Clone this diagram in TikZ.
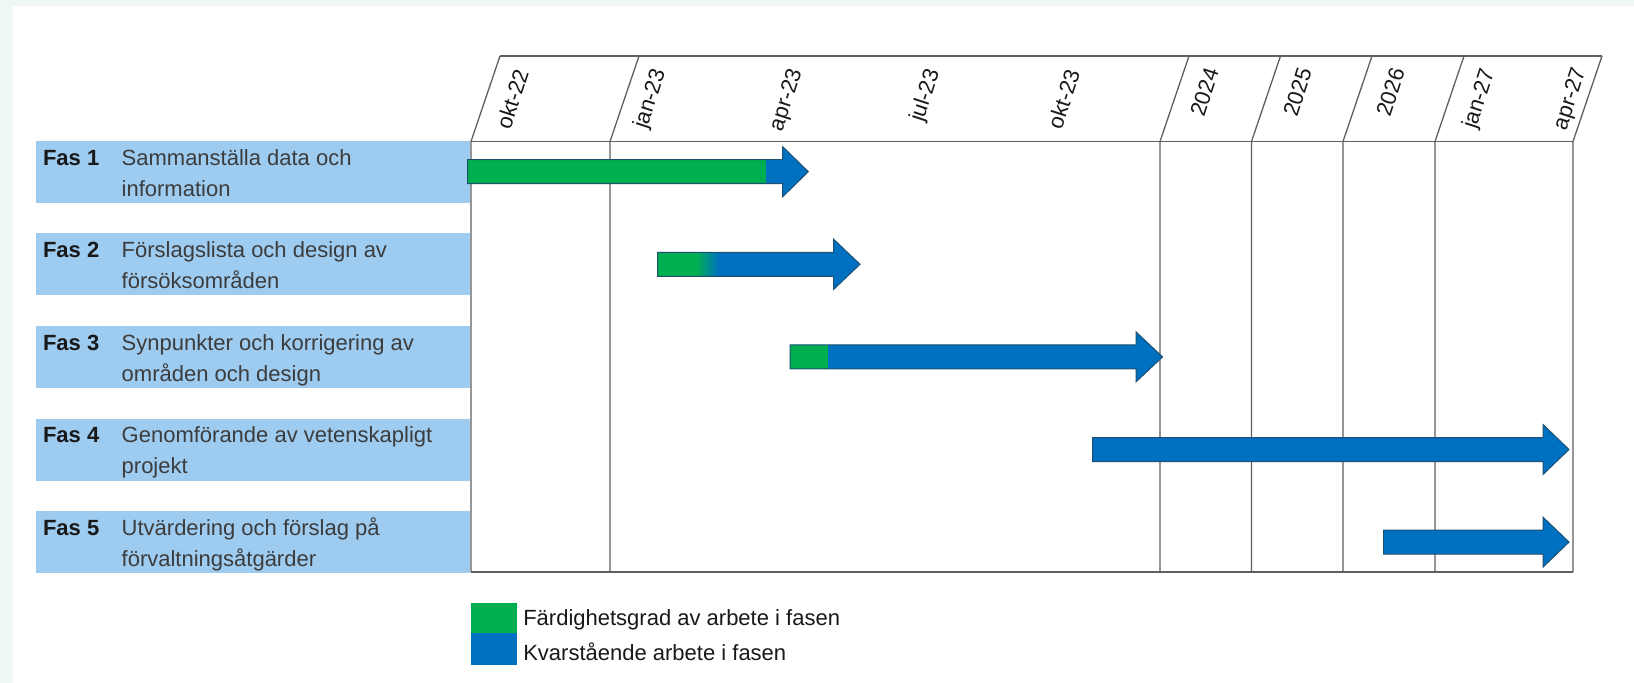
\documentclass[tikz,border=0pt]{standalone}
\usepackage{fontspec}
\setmainfont{Liberation Sans}
\definecolor{outerbg}{RGB}{239,246,246}
\definecolor{boxblue}{RGB}{158,203,240}
\definecolor{ggreen}{RGB}{0,176,80}
\definecolor{gblue}{RGB}{0,112,192}
\definecolor{aedge}{RGB}{30,80,115}
\definecolor{gridgray}{RGB}{95,95,95}
\definecolor{txtgray}{RGB}{60,60,60}
\definecolor{txtdark}{RGB}{25,25,25}
\newcommand{\ganttbar}[5]{%
  \fill[gblue] ({#1},{#5-12}) -- ({#3},{#5-12}) -- ({#3},{#5-25}) -- ({#4},{#5}) -- ({#3},{#5+25}) -- ({#3},{#5+12}) -- ({#1},{#5+12}) -- cycle;
  \fill[ggreen] ({#1},{#5-12}) rectangle ({#2},{#5+12});
  \draw[baredge] ({#1},{#5-12}) -- ({#3},{#5-12}) -- ({#3},{#5-25}) -- ({#4},{#5}) -- ({#3},{#5+25}) -- ({#3},{#5+12}) -- ({#1},{#5+12}) -- cycle;
}
\begin{document}
\begin{tikzpicture}[x=1pt,y=-1pt,
  every node/.style={font=\fontsize{22pt}{26pt}\selectfont, inner sep=0pt, outer sep=0pt},
  phasebox/.style={fill=boxblue, draw=none, minimum width=434pt, minimum height=62pt, anchor=north west},
  fastxt/.style={anchor=base west, font=\fontsize{22pt}{26pt}\selectfont\bfseries, text=txtdark},
  desctxt/.style={anchor=base west, text=txtgray},
  datelbl/.style={anchor=east, rotate=72, text=txtdark},
  gridline/.style={draw=gridgray, line width=1.3pt},
  baredge/.style={draw=aedge, line width=1pt, line join=miter},
  legtxt/.style={anchor=west, text=txtdark}]
\useasboundingbox (0,0) rectangle (1634,683);
\fill[outerbg] (0,0) rectangle (1634,683);
\fill[white] (12.7,5.7) rectangle (1634,683);

% phase boxes
\node[phasebox] (b1) at (36,140.7) {};
\node[phasebox] (b2) at (36,233.3) {};
\node[phasebox] (b3) at (36,325.9) {};
\node[phasebox] (b4) at (36,418.5) {};
\node[phasebox] (b5) at (36,511.1) {};

\node[fastxt] (f1) at (43,165.0) {Fas 1};
\node[desctxt] (d1a) at (121.7,165.0) {Sammanställa data och};
\node[desctxt] (d1b) at (121.7,196.0) {information};
\node[fastxt] (f2) at (43,257.6) {Fas 2};
\node[desctxt] (d2a) at (121.7,257.6) {Förslagslista och design av};
\node[desctxt] (d2b) at (121.7,288.6) {försöksområden};
\node[fastxt] (f3) at (43,350.2) {Fas 3};
\node[desctxt] (d3a) at (121.7,350.2) {Synpunkter och korrigering av};
\node[desctxt] (d3b) at (121.7,381.2) {områden och design};
\node[fastxt] (f4) at (43,442.8) {Fas 4};
\node[desctxt] (d4a) at (121.7,442.8) {Genomförande av vetenskapligt};
\node[desctxt] (d4b) at (121.7,473.8) {projekt};
\node[fastxt] (f5) at (43,535.4) {Fas 5};
\node[desctxt] (d5a) at (121.7,535.4) {Utvärdering och förslag på};
\node[desctxt] (d5b) at (121.7,566.4) {förvaltningsåtgärder};

% chart frame
\draw[gridline] (500,56) -- (1602,56);
\draw[gridline] (471,141.5) -- (1573,141.5);
\draw[gridline] (471,572) -- (1573,572);
\foreach \xb in {471,610,1160,1251.5,1343,1435,1573}{
  \draw[gridline, line join=miter] (\xb,572) -- (\xb,141.5) -- ({\xb+29},56);
}

% date labels
\node[datelbl] (l1) at (521.7,70) {okt-22};
\node[datelbl] (l2) at (660,70) {jan-23};
\node[datelbl] (l3) at (796.7,70) {apr-23};
\node[datelbl] (l4) at (934,70) {jul-23};
\node[datelbl] (l5) at (1073,70) {okt-23};
\node[datelbl] (l6) at (1212,69) {2024};
\node[datelbl] (l7) at (1305,69) {2025};
\node[datelbl] (l8) at (1398,69) {2026};
\node[datelbl] (l9) at (1489,70) {jan-27};
\node[datelbl] (l10) at (1580.6,69) {apr-27};

% bars
\ganttbar{467.5}{766}{782.7}{808.3}{171.7}
\fill[gblue] (657.5,252.3) -- (833.7,252.3) -- (833.7,239.3) -- (860,264.3) -- (833.7,289.3) -- (833.7,276.3) -- (657.5,276.3) -- cycle;
\fill[ggreen] (657.5,252.3) rectangle (696,276.3);
\shade[left color=ggreen, right color=gblue] (696,252.3) rectangle (719,276.3);
\draw[baredge] (657.5,252.3) -- (833.7,252.3) -- (833.7,239.3) -- (860,264.3) -- (833.7,289.3) -- (833.7,276.3) -- (657.5,276.3) -- cycle;
\ganttbar{790}{828}{1136}{1162.5}{356.9}
\ganttbar{1092.5}{1092.5}{1543}{1569}{449.5}
\ganttbar{1383.5}{1383.5}{1543}{1569}{542.1}

% legend
\node[fill=ggreen, minimum width=46pt, minimum height=30.6pt, anchor=north west] (lg) at (470.7,602.7) {};
\node[fill=gblue, minimum width=46pt, minimum height=31.7pt, anchor=north west] (lb) at (470.7,633.3) {};
\node[legtxt] (lgt) at (523.3,620) {Färdighetsgrad av arbete i fasen};
\node[legtxt] (lbt) at (523.3,651.7) {Kvarstående arbete i fasen};
\end{tikzpicture}
\end{document}
